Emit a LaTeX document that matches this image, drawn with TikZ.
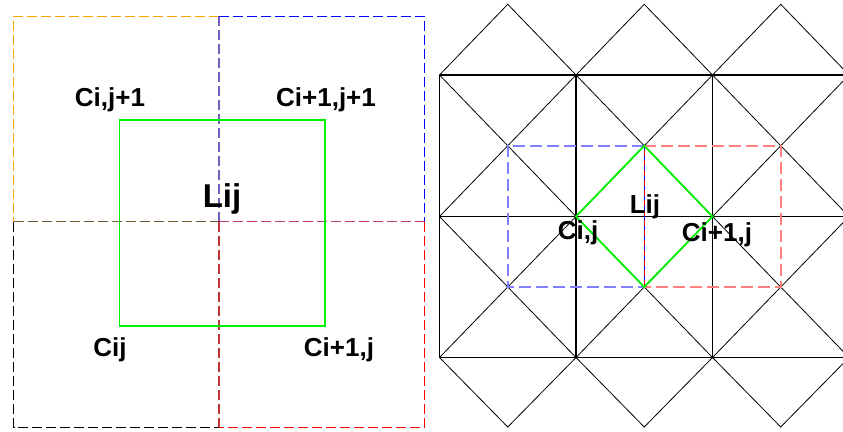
\documentclass[tikz,border=0pt]{standalone}
\usepackage{fontspec}
\setmainfont{Liberation Sans}
\definecolor{lblue}{RGB}{128,128,255}
\definecolor{lred}{RGB}{255,128,128}
\definecolor{grn}{RGB}{0,240,0}
\definecolor{org}{RGB}{255,165,0}
\begin{document}
\begin{tikzpicture}[x=1pt,y=-1pt,
  lbl/.style={font=\bfseries\fontsize{26}{26}\selectfont, anchor=base, inner sep=0pt},
  biglbl/.style={font=\bfseries\fontsize{33}{33}\selectfont, anchor=base, inner sep=0pt},
  celldash/.style={dash pattern=on 10pt off 4pt, line width=1pt},
  mixdash/.style={dash pattern=on 10pt off 4pt, line width=1.1pt, draw opacity=0.55},
  grline/.style={draw=grn, line width=1.8pt},
  thinline/.style={line width=0.8pt, black},
  gridline/.style={line width=1.1pt, black},
  ldash/.style={line width=1.8pt, dash pattern=on 12pt off 5pt}]
\useasboundingbox (0,0) rectangle (843,431);
% ---------- left panel ----------
\coordinate (tl) at (13.5,16);
\coordinate (tm) at (219,16);
\coordinate (tr) at (424.5,16);
\coordinate (ml) at (13.5,221.5);
\coordinate (mm) at (219,221.5);
\coordinate (mr) at (424.5,221.5);
\coordinate (bl) at (13.5,427);
\coordinate (bm) at (219,427);
\coordinate (br) at (424.5,427);
\draw[celldash,org] (tm) -- (tl) -- (ml);
\draw[celldash,blue] (tm) -- (tr) -- (mr);
\draw[celldash,black] (ml) -- (bl) -- (bm);
\draw[celldash,red] (mr) -- (br) -- (bm);
\draw[mixdash,org] (tm) -- (mm);
\draw[mixdash,blue] (tm) -- (mm);
\draw[mixdash,org] (ml) -- (mm);
\draw[mixdash,black] (ml) -- (mm);
\draw[mixdash,blue] (mm) -- (mr);
\draw[mixdash,red] (mm) -- (mr);
\draw[mixdash,black] (mm) -- (bm);
\draw[mixdash,red] (mm) -- (bm);
\draw[grline] (119.5,120.3) rectangle (325,325.7);
\node[lbl] (c1) at (110,106) {Ci,j+1};
\node[lbl] (c2) at (326,106) {Ci+1,j+1};
\node[biglbl] (l1) at (222,207) {Lij};
\node[lbl] (c3) at (110,356) {Cij};
\node[lbl] (c4) at (339,356) {Ci+1,j};
% ---------- right panel ----------
\begin{scope}
\clip (430,0) rectangle (843,431);
\foreach \x in {439.5,576,712.5}
  \draw[gridline] (\x,75) -- (\x,357.5);
\foreach \y in {75,216.5,357.5}
  \draw[gridline] (439.5,\y) -- (850,\y);
\foreach \x in {439.5,576,712.5} {
  \foreach \y/\yy in {75/216.5,216.5/357.5} {
    \draw[thinline] (\x,\y) -- ({\x+136.5},\yy);
    \draw[thinline] ({\x+136.5},\y) -- (\x,\yy);
  }
}
\draw[thinline] (439.5,75) -- (507.75,4.3) -- (576,75) -- (644.25,4.3) -- (712.5,75) -- (780.75,4.3) -- (849,75);
\draw[thinline] (439.5,357.5) -- (507.75,427) -- (576,357.5) -- (644.25,427) -- (712.5,357.5) -- (780.75,427) -- (849,357.5);
\end{scope}
\coordinate (t) at (644.25,145.75);
\coordinate (b) at (644.25,287);
\coordinate (w) at (576,216.5);
\coordinate (e) at (712.5,216.5);
\draw[ldash,lblue] (t) -- (507.75,145.75) -- (507.75,287) -- (b);
\draw[ldash,lred] (t) -- (780.75,145.75) -- (780.75,287) -- (b);
\draw[red, line width=0.9pt] (t) -- (b);
\draw[blue, line width=0.9pt, dash pattern=on 4pt off 6pt] (t) -- (b);
\draw[grline] (w) -- (t) -- (e) -- (b) -- cycle;
\node[lbl] (l2) at (645,213) {Lij};
\node[lbl] (c5) at (578,239) {Ci,j};
\node[lbl] (c6) at (717,241) {Ci+1,j};
\end{tikzpicture}
\end{document}
